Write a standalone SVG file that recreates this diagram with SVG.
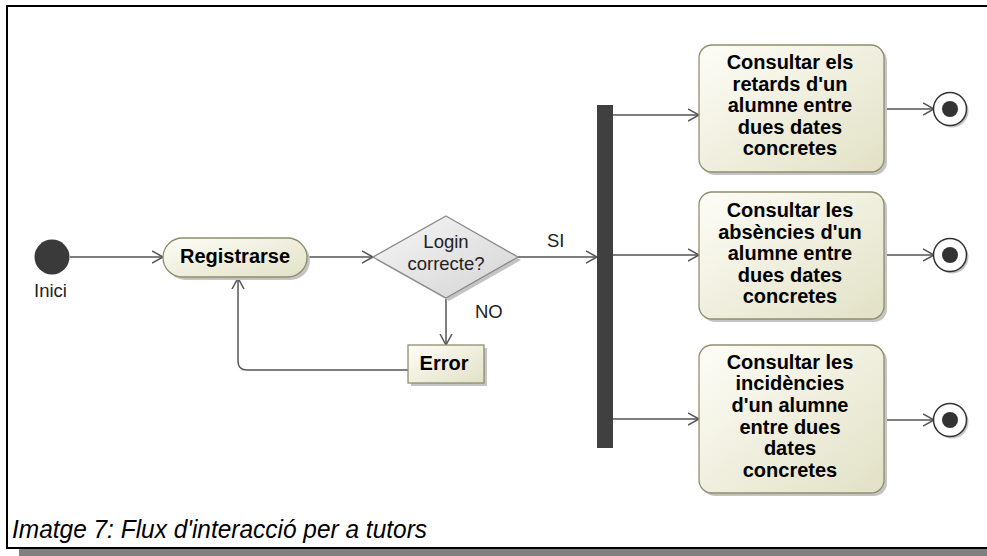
<svg xmlns="http://www.w3.org/2000/svg" width="987" height="556" viewBox="0 0 987 556">
<defs>
<style>
.act{fill:url(#gAct);stroke:#8e8e6e;stroke-width:1.3}
.shd{fill:#c4c4c4}
.bt{font-family:"Liberation Sans",Arial,sans-serif;font-weight:bold;font-size:20px;fill:#000;text-anchor:middle}
.rt{font-family:"Liberation Sans",Arial,sans-serif;font-size:18.5px;fill:#222}
.ln{fill:none;stroke:#555;stroke-width:1.5}
</style>
<linearGradient id="gAct" x1="0" y1="0" x2="1" y2="1">
<stop offset="0" stop-color="#fdfdf7"/>
<stop offset="1" stop-color="#e2e1c6"/>
</linearGradient>
<linearGradient id="gDia" x1="0" y1="0" x2="1" y2="1">
<stop offset="0" stop-color="#f6f6f6"/>
<stop offset="1" stop-color="#d4d4d4"/>
</linearGradient>
<marker id="arr" markerUnits="userSpaceOnUse" markerWidth="14" markerHeight="14" refX="11" refY="7" orient="auto">
<path d="M0,1 L11,7 L0,13" fill="none" stroke="#555" stroke-width="1.5"/>
</marker>
</defs>
<rect x="0" y="0" width="987" height="556" fill="#fff"/>
<g id="frame">
<path d="M7,548 V6 H987" fill="none" stroke="#000" stroke-width="2"/>
<path d="M6,548 H987" fill="none" stroke="#000" stroke-width="2"/>
<rect x="19" y="549" width="968" height="7" fill="#808080"/>
</g>
<g id="connectors">
<path class="ln" d="M70,257 H163" marker-end="url(#arr)"/>
<path class="ln" d="M307,257 H373" marker-end="url(#arr)"/>
<path class="ln" d="M518,257 H597" marker-end="url(#arr)"/>
<path class="ln" d="M446,298 V345" marker-end="url(#arr)"/>
<path class="ln" d="M408,370 H247 Q238,370 238,361 V278" marker-end="url(#arr)"/>
<path class="ln" d="M613,115 H699" marker-end="url(#arr)"/>
<path class="ln" d="M613,255 H699" marker-end="url(#arr)"/>
<path class="ln" d="M613,419 H699" marker-end="url(#arr)"/>
<path class="ln" d="M887,109 H934" marker-end="url(#arr)"/>
<path class="ln" d="M887,255 H934" marker-end="url(#arr)"/>
<path class="ln" d="M887,420 H934" marker-end="url(#arr)"/>
<text class="rt" x="547" y="247">SI</text>
<text class="rt" x="475" y="318">NO</text>
</g>
<g id="inici">
<circle cx="52" cy="257" r="17.5" fill="#3a3a3a"/>
<text class="rt" x="34" y="297">Inici</text>
</g>
<g id="registrarse">
<rect class="shd" x="166" y="241" width="144" height="39" rx="19.5"/>
<rect class="act" x="163" y="238" width="144" height="39" rx="19.5"/>
<text class="bt" x="235" y="263">Registrarse</text>
</g>
<g id="login">
<polygon points="449,219 521,260 449,301 376,260" fill="#c4c4c4"/>
<polygon points="446,216 518,257 446,298 373,257" fill="url(#gDia)" stroke="#8a8a8a" stroke-width="1.3"/>
<text class="rt" x="446" y="248" text-anchor="middle">Login</text>
<text class="rt" x="446" y="270" text-anchor="middle">correcte?</text>
</g>
<g id="error">
<rect class="shd" x="411" y="348" width="76" height="38"/>
<rect class="act" x="408" y="345" width="76" height="38"/>
<text class="bt" x="444" y="370">Error</text>
</g>
<g id="fork">
<rect x="597" y="105" width="16" height="343" fill="#404040"/>
</g>
<g id="retards">
<rect class="shd" x="702" y="48" width="185" height="127" rx="13"/>
<rect class="act" x="699" y="45" width="185" height="127" rx="13"/>
<text class="bt" x="790" y="69">Consultar els</text>
<text class="bt" x="790" y="91">retards d'un</text>
<text class="bt" x="790" y="112">alumne entre</text>
<text class="bt" x="790" y="134">dues dates</text>
<text class="bt" x="790" y="155">concretes</text>
</g>
<g id="absencies">
<rect class="shd" x="702" y="195" width="185" height="127" rx="13"/>
<rect class="act" x="699" y="192" width="185" height="127" rx="13"/>
<text class="bt" x="790" y="217">Consultar les</text>
<text class="bt" x="790" y="239">absències d'un</text>
<text class="bt" x="790" y="260">alumne entre</text>
<text class="bt" x="790" y="282">dues dates</text>
<text class="bt" x="790" y="303">concretes</text>
</g>
<g id="incidencies">
<rect class="shd" x="702" y="348" width="185" height="148" rx="13"/>
<rect class="act" x="699" y="345" width="185" height="148" rx="13"/>
<text class="bt" x="790" y="369">Consultar les</text>
<text class="bt" x="790" y="390">incidències</text>
<text class="bt" x="790" y="412">d'un alumne</text>
<text class="bt" x="790" y="434">entre dues</text>
<text class="bt" x="790" y="455">dates</text>
<text class="bt" x="790" y="477">concretes</text>
</g>
<g id="final1">
<circle cx="952" cy="111" r="16.5" fill="#c4c4c4"/>
<circle cx="950" cy="109" r="16.5" fill="#fff" stroke="#333" stroke-width="1.5"/>
<circle cx="950" cy="109" r="8" fill="#333"/>
</g>
<g id="final2">
<circle cx="952" cy="257" r="16.5" fill="#c4c4c4"/>
<circle cx="950" cy="255" r="16.5" fill="#fff" stroke="#333" stroke-width="1.5"/>
<circle cx="950" cy="255" r="8" fill="#333"/>
</g>
<g id="final3">
<circle cx="952" cy="422" r="16.5" fill="#c4c4c4"/>
<circle cx="950" cy="420" r="16.5" fill="#fff" stroke="#333" stroke-width="1.5"/>
<circle cx="950" cy="420" r="8" fill="#333"/>
</g>
<text x="12" y="538" font-family="'Liberation Sans',Arial,sans-serif" font-style="italic" font-size="25" textLength="415" lengthAdjust="spacingAndGlyphs" fill="#000">Imatge 7: Flux d'interacció per a tutors</text>
</svg>
